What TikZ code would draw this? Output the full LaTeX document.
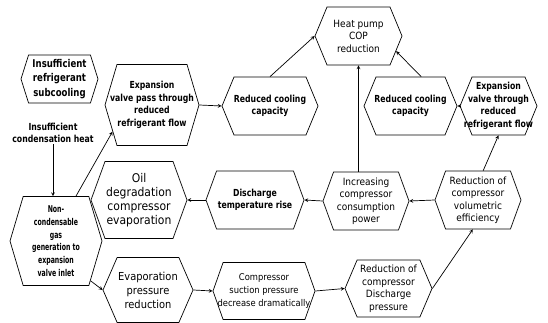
\documentclass[tikz,border=0pt]{standalone}
\usepackage{fontspec}
\setmainfont{DejaVu Sans}[FakeStretch=0.9, BoldFeatures={FakeStretch=0.8}]
\newfontfamily\narrowfont{DejaVu Sans}[FakeStretch=0.72, BoldFeatures={FakeStretch=0.66}]
\usetikzlibrary{shapes.symbols}

\begin{document}
\begin{tikzpicture}[x=1pt, y=-1pt, >=stealth, line width=0.7pt]
    \tikzstyle{hex} = [draw, signal, signal to=east and west, signal pointer angle=140, inner xsep=-10pt, inner ysep=1pt, align=center, minimum height=58pt, font=\fontsize{10}{12.5}\selectfont]
    \tikzstyle{hexb} = [hex, font=\fontsize{9.7}{12.5}\selectfont\bfseries]
    \useasboundingbox (0,0) rectangle (548,323);

    % left column
    \node[hexb, minimum width=77pt, minimum height=48pt, signal pointer angle=145, font=\fontsize{10.7}{14.5}\selectfont\bfseries] (sub) at (59.5,79) {Insufficient\\refrigerant\\subcooling};
    \node[font=\fontsize{9.7}{12}\selectfont\bfseries, align=center, inner sep=1pt] (heat) at (53,133) {Insufficient\\condensation heat};
    \node[hexb, minimum width=92pt, minimum height=89pt, signal pointer angle=147, font=\fontsize{9.4}{12.7}\narrowfont\bfseries] (ncg) at (56,241) {Non-\\condensable\\gas\\generation to\\expansion\\valve inlet};

    % upper row
    \node[hexb, minimum width=94pt, minimum height=81pt, signal pointer angle=147] (evp) at (152,105) {Expansion\\valve pass through\\reduced\\refrigerant flow};
    \node[hexb, minimum width=96pt, signal pointer angle=135] (rcl) at (270,106) {Reduced cooling\\capacity};
    \node[hex, minimum width=87pt, signal pointer angle=135] (cop) at (358.5,36) {Heat pump\\COP\\reduction};
    \node[hexb, minimum width=93pt, signal pointer angle=135] (rcr) at (410.5,106) {Reduced cooling\\capacity};
    \node[hexb, minimum width=77pt, signal pointer angle=135] (evt) at (498.5,106) {Expansion\\valve through\\reduced\\refrigerant flow};

    % middle row
    \node[hex, minimum width=96pt, minimum height=77pt, font=\fontsize{12}{14}\selectfont] (oil) at (139,200) {Oil\\degradation\\compressor\\evaporation};
    \node[hexb, minimum width=98pt] (dtr) at (255,200) {Discharge\\temperature rise};
    \node[hex, minimum width=86pt] (inc) at (366,201) {Increasing\\compressor\\consumption\\power};
    \node[hex, minimum width=86pt] (vol) at (478,200) {Reduction of\\compressor\\volumetric\\efficiency};

    % lower row
    \node[hex, minimum width=90pt, minimum height=65pt, signal pointer angle=133, font=\fontsize{11}{14}\selectfont] (epr) at (148,290) {Evaporation\\pressure\\reduction};
    \node[hex, minimum width=102pt, minimum height=57pt, signal pointer angle=141, font=\fontsize{9.3}{13}\selectfont] (csp) at (264,291) {Compressor\\suction pressure\\decrease dramatically};
    \node[hex, minimum width=87pt, minimum height=57pt, signal pointer angle=134] (rdp) at (388.5,288.5) {Reduction of\\compressor\\Discharge\\pressure};

    % connectors
    \draw[->] (heat.south) -- (heat.south |- ncg.north);
    \draw[->] (ncg.66) -- (evp.214);
    \draw[->] (evp.east) -- (rcl.west);
    \draw[->] (rcl.north) -- (cop.west);
    \draw[->] (inc.north -| cop.south) -- (cop.south);
    \draw[->] (rcr.70) -- (cop.-22);
    \draw[->] (evt.west) -- (rcr.east);
    \draw[->] (vol.80) -- (evt.south);
    \draw[->] (vol.west) -- (inc.east);
    \draw[->] (inc.west) -- (dtr.east);
    \draw[->] (dtr.west) -- (oil.east);
    \draw[->] (ncg.-49) -- (epr.west);
    \draw[->] (epr.east) -- (csp.west);
    \draw[->] (csp.east) -- (rdp.west);
    \draw[->] (rdp.east) -- (vol.-100);
\end{tikzpicture}
\end{document}
